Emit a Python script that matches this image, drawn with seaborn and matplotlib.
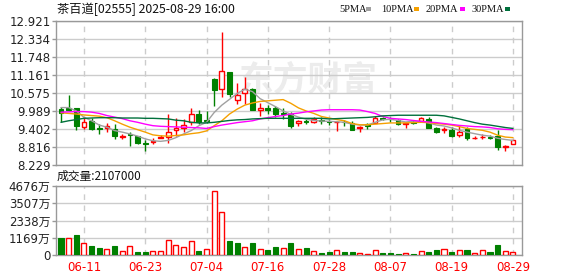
import numpy as np
import pandas as pd
import matplotlib
matplotlib.use("Agg")
import matplotlib.pyplot as plt
from matplotlib.patches import Rectangle
import seaborn as sns

# ---------------- data ----------------
dates = ["06-06", "06-09", "06-10", "06-11", "06-12", "06-13", "06-16", "06-17", "06-18", "06-19",
         "06-20", "06-23", "06-24", "06-25", "06-26", "06-27", "06-30", "07-02", "07-03", "07-04",
         "07-07", "07-08", "07-09", "07-10", "07-11", "07-14", "07-15", "07-16", "07-17", "07-18",
         "07-21", "07-22", "07-23", "07-24", "07-25", "07-28", "07-29", "07-30", "07-31", "08-01",
         "08-04", "08-05", "08-06", "08-07", "08-08", "08-11", "08-12", "08-13", "08-14", "08-15",
         "08-18", "08-19", "08-20", "08-21", "08-22", "08-25", "08-26", "08-27", "08-28", "08-29"]

opens = [10.05, 10.10, 10.07, 9.46, 9.66, 9.42, 9.42, 9.40, 9.15, 9.24,
         9.16, 8.93, 8.99, 9.12, 9.13, 9.37, 9.42, 9.62, 9.89, 9.70,
         11.03, 10.70, 11.25, 10.35, 10.59, 10.72, 10.03, 10.10, 10.10, 9.92,
         9.88, 9.60, 9.66, 9.62, 9.71, 9.66, 9.62, 9.64, 9.60, 9.43,
         9.58, 9.60, 9.77, 9.74, 9.68, 9.55, 9.64, 9.66, 9.73, 9.42,
         9.37, 9.37, 9.22, 9.40, 9.10, 9.13, 9.15, 9.18, 8.80, 8.90]
highs = [10.13, 10.50, 10.08, 9.78, 9.75, 9.56, 9.60, 9.55, 9.24, 9.29,
         9.19, 9.03, 9.10, 9.21, 9.89, 9.76, 9.73, 10.07, 10.03, 10.00,
         11.05, 12.55, 11.27, 10.89, 11.10, 10.74, 10.26, 10.18, 10.15, 10.07,
         9.94, 9.68, 9.74, 9.78, 9.80, 9.68, 9.65, 9.70, 9.65, 9.49,
         9.60, 9.83, 9.80, 9.78, 9.72, 9.62, 9.68, 9.80, 9.78, 9.48,
         9.48, 9.46, 9.49, 9.46, 9.17, 9.24, 9.22, 9.37, 8.88, 9.05]
lows = [9.62, 10.00, 9.38, 9.40, 9.38, 9.24, 9.29, 9.08, 9.08, 8.86,
        8.90, 8.70, 8.91, 9.10, 8.94, 9.19, 9.32, 9.53, 9.57, 9.61,
        10.15, 10.45, 10.45, 10.21, 10.21, 10.02, 9.83, 9.88, 9.78, 9.74,
        9.45, 9.49, 9.56, 9.59, 9.56, 9.53, 9.35, 9.49, 9.37, 9.29,
        9.40, 9.59, 9.70, 9.62, 9.52, 9.44, 9.58, 9.65, 9.43, 9.26,
        9.27, 9.13, 9.13, 9.03, 9.06, 9.08, 9.07, 8.72, 8.68, 8.90]
closes = [9.92, 10.03, 9.49, 9.62, 9.40, 9.39, 9.49, 9.16, 9.19, 9.20,
          8.94, 8.91, 9.02, 9.14, 9.29, 9.42, 9.53, 9.89, 9.64, 9.65,
          10.67, 11.29, 10.53, 10.51, 10.69, 10.03, 10.10, 10.03, 9.88, 9.89,
          9.49, 9.67, 9.62, 9.74, 9.67, 9.63, 9.64, 9.62, 9.38, 9.48,
          9.49, 9.75, 9.73, 9.72, 9.58, 9.60, 9.59, 9.77, 9.44, 9.31,
          9.39, 9.18, 9.30, 9.10, 9.12, 9.14, 9.12, 8.83, 8.86, 9.04]
prev_close = 10.00  # close of the day before the first bar

# volume in 万股
volumes = [1130, 1130, 1356, 791, 610, 452, 384, 610, 271, 610,
           226, 226, 271, 271, 1017, 678, 520, 949, 294, 407,
           4339, 2893, 949, 836, 520, 836, 384, 339, 542, 452,
           836, 384, 452, 271, 158, 226, 316, 226, 226, 136,
           90, 316, 158, 158, 90, 158, 90, 271, 226, 339,
           384, 226, 339, 339, 136, 339, 226, 701, 271, 210.7]

ma5 = [10.10, 10.10, 9.99, 9.78, 9.67, 9.53, 9.46, 9.35, 9.30, 9.24,
       9.17, 9.08, 9.02, 9.00, 9.03, 9.12, 9.24, 9.35, 9.51, 9.62,
       9.94, 10.18, 10.37, 10.56, 10.70, 10.62, 10.39, 10.26, 10.13, 9.99,
       9.88, 9.79, 9.72, 9.68, 9.66, 9.65, 9.64, 9.62, 9.56, 9.53,
       9.53, 9.62, 9.70, 9.72, 9.68, 9.63, 9.66, 9.65, 9.60, 9.53,
       9.50, 9.44, 9.36, 9.30, 9.25, 9.20, 9.17, 9.10, 9.06, 9.03]
ma10 = [9.93, 9.91, 9.89, 9.86, 9.84, 9.82, 9.77, 9.67, 9.56, 9.46,
        9.38, 9.30, 9.21, 9.18, 9.17, 9.19, 9.21, 9.25, 9.28, 9.34,
        9.51, 9.67, 9.89, 10.05, 10.18, 10.25, 10.30, 10.32, 10.34, 10.36,
        10.24, 10.09, 9.99, 9.91, 9.81, 9.76, 9.71, 9.67, 9.58, 9.54,
        9.54, 9.56, 9.58, 9.60, 9.60, 9.60, 9.61, 9.62, 9.61, 9.58,
        9.56, 9.53, 9.48, 9.42, 9.39, 9.36, 9.30, 9.20, 9.14, 9.12]
ma20 = [9.95, 9.96, 9.97, 9.97, 9.95, 9.91, 9.84, 9.79, 9.74, 9.67,
        9.62, 9.56, 9.51, 9.49, 9.48, 9.47, 9.46, 9.45, 9.44, 9.42,
        9.48, 9.53, 9.57, 9.61, 9.64, 9.67, 9.73, 9.77, 9.81, 9.84,
        9.89, 9.92, 9.96, 9.99, 10.02, 10.03, 10.03, 10.03, 10.03, 10.02,
        9.97, 9.91, 9.81, 9.75, 9.73, 9.71, 9.68, 9.65, 9.63, 9.61,
        9.58, 9.55, 9.52, 9.50, 9.48, 9.47, 9.45, 9.41, 9.39, 9.38]
ma30 = [9.62, 9.67, 9.71, 9.75, 9.76, 9.77, 9.77, 9.77, 9.76, 9.76,
        9.76, 9.75, 9.75, 9.74, 9.73, 9.69, 9.67, 9.62, 9.60, 9.60,
        9.62, 9.65, 9.68, 9.70, 9.71, 9.73, 9.74, 9.75, 9.75, 9.75,
        9.75, 9.75, 9.75, 9.75, 9.75, 9.73, 9.74, 9.75, 9.76, 9.77,
        9.78, 9.80, 9.83, 9.84, 9.85, 9.85, 9.85, 9.85, 9.85, 9.85,
        9.83, 9.78, 9.73, 9.67, 9.61, 9.56, 9.53, 9.49, 9.45, 9.42]

price_ticks = [8.229, 8.816, 9.402, 9.989, 10.575, 11.161, 11.748, 12.334, 12.921]
vol_ticks = [0, 1169, 2338, 3507, 4676]
tick_dates = ["06-11", "06-23", "07-04", "07-16", "07-28", "08-07", "08-19", "08-29"]
title_text = "茶百道[02555] 2025-08-29 16:00"
vol_text = "成交量:2107000"
ma_labels = ["5PMA", "10PMA", "20PMA", "30PMA"]
watermark = "东方财富"

# ---------------- styling ----------------
RED = "#ff0000"
GREEN = "#008000"
MA_COLORS = ["#a0a0a0", "#f5a000", "#ff00ff", "#00703c"]
GRID = "#cccccc"
SPINE = "#999999"

sns.set_theme(style="white")
plt.rcParams["font.family"] = ["DejaVu Sans", "Noto Sans CJK SC"]

W, H = 578, 276
fig = plt.figure(figsize=(W / 100, H / 100), dpi=100)


def box(l, t, r, b):
    return [l / W, 1 - b / H, (r - l) / W, (b - t) / H]


def fx(px):
    return px / W


def fy(py):
    return 1 - py / H


ax = fig.add_axes(box(56, 21, 522, 165))
axv = fig.add_axes(box(56, 186, 522, 255))

df = pd.DataFrame(dict(date=dates, open=opens, high=highs, low=lows, close=closes, vol=volumes,
                       ma5=ma5, ma10=ma10, ma20=ma20, ma30=ma30))
df["x"] = np.arange(len(df))
x = df["x"].to_numpy()
o = df["open"].to_numpy()
c = df["close"].to_numpy()
hi = df["high"].to_numpy()
lo = df["low"].to_numpy()

xlim = (-0.65, 60.18)

# watermark
ax.text(fx(308), fy(80), watermark, transform=fig.transFigure, ha="center", va="center",
        fontsize=25, color="#ececec", fontweight="bold", family=["Noto Sans CJK SC"], zorder=0.5)

# candles
up = c >= o
bot = np.minimum(o, c)
top = np.maximum(o, c)
hgt = np.maximum(top - bot, 0.012)
cols = np.where(up, RED, GREEN)
ax.vlines(x, lo, bot, colors=cols, linewidth=1, zorder=3)
ax.vlines(x, top, hi, colors=cols, linewidth=1, zorder=3)
ax.bar(x[up], hgt[up], bottom=bot[up], width=0.62, facecolor="white", edgecolor=RED,
       linewidth=1, zorder=4)
ax.bar(x[~up], hgt[~up], bottom=bot[~up], width=0.62, color=GREEN, edgecolor=GREEN,
       linewidth=0.8, zorder=4)

# moving averages
for col, colr in zip(["ma5", "ma10", "ma20", "ma30"], MA_COLORS):
    sns.lineplot(data=df, x="x", y=col, color=colr, linewidth=1, ax=ax, estimator=None,
                 zorder=5)

ax.set_xlim(*xlim)
ax.set_ylim(price_ticks[0], price_ticks[-1])
ax.set_yticks(price_ticks)
ax.set_yticklabels([f"{v:.3f}" for v in price_ticks])
tick_pos = [dates.index(d) for d in tick_dates]
ax.set_xticks(tick_pos)
ax.set_xticklabels([])
ax.set_xlabel("")
ax.set_ylabel("")

# volume
prev = np.concatenate([[prev_close], c[:-1]])
vup = c >= prev
v = df["vol"].to_numpy()
axv.bar(x[vup], v[vup], width=0.66, facecolor="white", edgecolor=RED, linewidth=1, zorder=3)
axv.bar(x[~vup], v[~vup], width=0.66, color=GREEN, edgecolor=GREEN, linewidth=0.8, zorder=3)
axv.set_xlim(*xlim)
axv.set_ylim(vol_ticks[0], vol_ticks[-1])
axv.set_yticks(vol_ticks)
axv.set_yticklabels([f"{t}万" if t else "0" for t in vol_ticks])
axv.set_xticks(tick_pos)
axv.set_xticklabels(tick_dates, color=RED)

for a in (ax, axv):
    a.set_axisbelow(True)
    a.yaxis.grid(True, color=GRID, linewidth=1, linestyle="-")
    a.xaxis.grid(True, color=GRID, linewidth=1, linestyle=(0, (4, 4)))
    for s in a.spines.values():
        s.set_color(SPINE)
        s.set_linewidth(1)
        s.set_visible(True)
    a.tick_params(axis="y", which="both", left=True, length=3, width=1, color=SPINE,
                  labelsize=8.5, labelcolor="#222222", pad=1)
    a.tick_params(axis="x", which="both", bottom=False, length=0, labelsize=8.5, pad=4)
axv.tick_params(axis="x", labelcolor=RED)

# header texts
fig.text(fx(57), fy(9), title_text, ha="left", va="center", fontsize=8.8, color="#111111",
         family=["Noto Sans CJK SC", "DejaVu Sans"])
fig.text(fx(57), fy(176), vol_text, ha="left", va="center", fontsize=8.5, color="#111111",
         family=["Noto Sans CJK SC", "DejaVu Sans"])

leg_text_x = [339, 381, 426, 472]
leg_sq_x = [366, 414, 460, 505]
for lbl, tx, sx, colr in zip(ma_labels, leg_text_x, leg_sq_x, MA_COLORS):
    fig.text(fx(tx), fy(9), lbl, ha="left", va="center", fontsize=7.5, color="#111111",
             family=["Liberation Serif"])
    fig.patches.append(Rectangle((fx(sx), fy(11)), 5 / W, 4 / H, transform=fig.transFigure,
                                 facecolor=colr, edgecolor="none", figure=fig))

fig.savefig("out.png", dpi=100)
